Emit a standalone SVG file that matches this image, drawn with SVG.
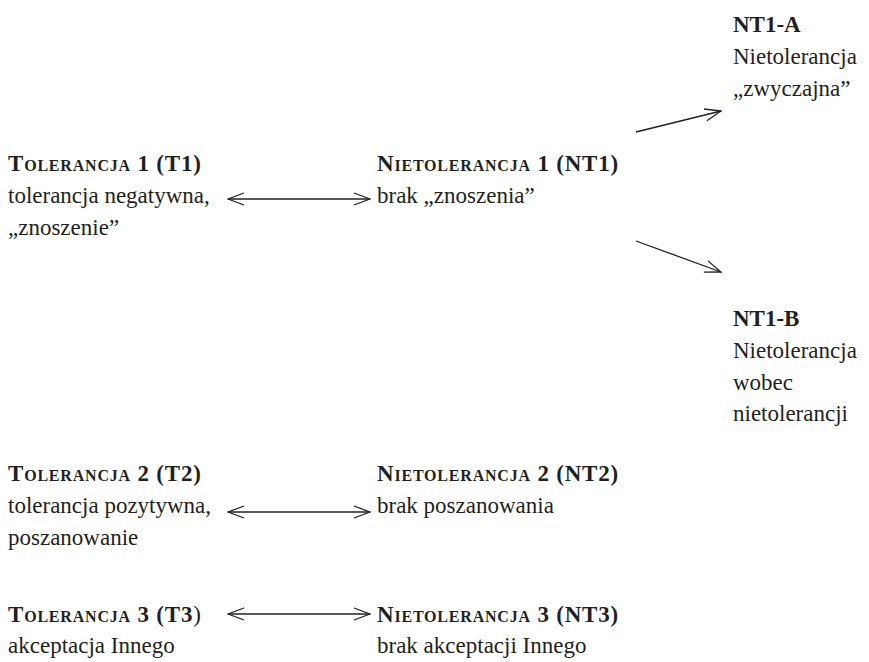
<svg xmlns="http://www.w3.org/2000/svg" width="869" height="662" viewBox="0 0 869 662">
<defs>
<style>
text{font-family:"Liberation Serif","DejaVu Serif",serif;font-size:23px;fill:#231f20}
.h{font-weight:bold;font-variant:small-caps;letter-spacing:0.8px}
.b{font-weight:bold}
.n{font-weight:normal}
.c line{stroke:#231f20;stroke-width:1.3;fill:none}
</style>
<marker id="ah" viewBox="0 0 18 14" refX="17" refY="7" markerWidth="18" markerHeight="14" markerUnits="userSpaceOnUse" orient="auto-start-reverse">
<path d="M1,1 L17,7 L1,13" fill="none" stroke="#231f20" stroke-width="1.3"/>
</marker>
</defs>
<rect width="869" height="662" fill="#fff"/>
<g id="T1">
<text x="8" y="171" class="h">Tolerancja 1 (T1)</text>
<text x="8" y="203">tolerancja negatywna,</text>
<text x="8" y="235">„znoszenie”</text>
</g>
<g id="NT1">
<text x="377" y="171" class="h">Nietolerancja 1 (NT1)</text>
<text x="377" y="203">brak „znoszenia”</text>
</g>
<g id="NT1-A">
<text x="733" y="32" class="b">NT1-A</text>
<text x="733" y="64">Nietolerancja</text>
<text x="733" y="96">„zwyczajna”</text>
</g>
<g id="NT1-B">
<text x="733" y="326" class="b">NT1-B</text>
<text x="733" y="358">Nietolerancja</text>
<text x="733" y="390">wobec</text>
<text x="733" y="421">nietolerancji</text>
</g>
<g id="T2">
<text x="8" y="481" class="h">Tolerancja 2 (T2)</text>
<text x="8" y="513">tolerancja pozytywna,</text>
<text x="8" y="545">poszanowanie</text>
</g>
<g id="NT2">
<text x="377" y="481" class="h">Nietolerancja 2 (NT2)</text>
<text x="377" y="513">brak poszanowania</text>
</g>
<g id="T3">
<text x="8" y="622" class="h">Tolerancja 3 (T3<tspan class="n">)</tspan></text>
<text x="8" y="653">akceptacja Innego</text>
</g>
<g id="NT3">
<text x="377" y="622" class="h">Nietolerancja 3 (NT3)</text>
<text x="377" y="653">brak akceptacji Innego</text>
</g>
<g id="connectors" class="c">
<line x1="228" y1="199" x2="370" y2="199" marker-start="url(#ah)" marker-end="url(#ah)"/>
<line x1="228" y1="512" x2="370" y2="512" marker-start="url(#ah)" marker-end="url(#ah)"/>
<line x1="228" y1="614" x2="370" y2="614" marker-start="url(#ah)" marker-end="url(#ah)"/>
<line x1="636" y1="132" x2="721" y2="111" marker-end="url(#ah)"/>
<line x1="636" y1="241" x2="721" y2="272" marker-end="url(#ah)"/>
</g>
</svg>
